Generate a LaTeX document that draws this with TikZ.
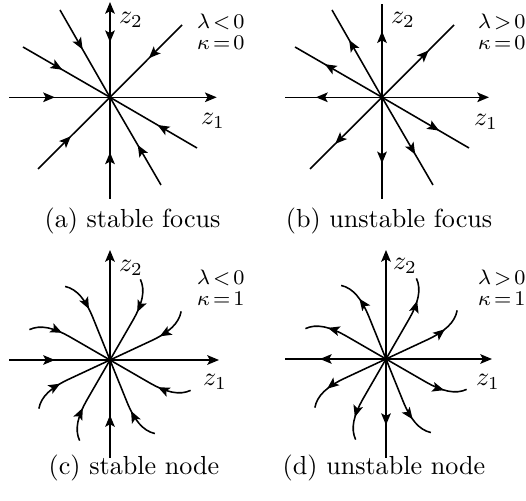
\documentclass[tikz,border=0pt]{standalone}
\usetikzlibrary{arrows.meta,decorations.markings}
\newcommand\lamfont{\fontsize{8.4}{10}\selectfont\thickmuskip=2.5mu}
\newcommand\zfont{\fontsize{10.3}{12}\selectfont}
\tikzset{
  traj/.style={line width=0.6pt},
  inmark/.style={postaction={decorate},decoration={markings,mark=at position -21.1pt with {\arrow{>}}}},
  outmark/.style={postaction={decorate},decoration={markings,mark=at position 25.3pt with {\arrow{>}}}},
  zl/.style={inner sep=0pt,font=\zfont},
  ll/.style={inner sep=0pt,font=\lamfont},
  capnode/.style={inner sep=0pt}
}
\begin{document}
\begin{tikzpicture}[x=0.383pt,y=0.383pt,>={Stealth[length=4.5pt,width=3.7pt,inset=1pt]}]
\useasboundingbox (0,0) rectangle (526,-501);
% ---------- (a) stable focus
\begin{scope}[shift={(110,-97.3)}]
  \coordinate (aO) at (0,0);
  \coordinate (aL) at (-101,0); \coordinate (aR) at (106.7,0);
  \coordinate (aT) at (0,95.3); \coordinate (aB) at (0,-101.7);
  \foreach \n/\x/\y in {1/-50/87.3,2/51/-87.7,3/-87/50.3,4/87/-50.7,5/72/72.3,6/-72/-71.7}{
    \coordinate (a\n) at (\x,\y);
    \draw[traj,inmark] (a\n) -- (aO);
  }
  \draw[traj,inmark] (aL) -- (aO);
  \draw[traj,->] (aO) -- (aR);
  \draw[traj,<-,inmark] (aT) -- (aO);
  \draw[traj,inmark] (aB) -- (aO);
\end{scope}
% ---------- (b) unstable focus
\begin{scope}[shift={(382,-97.3)}]
  \coordinate (bO) at (0,0);
  \coordinate (bL) at (-97,0); \coordinate (bR) at (107,0);
  \coordinate (bT) at (0,93.3); \coordinate (bB) at (0,-101.7);
  \foreach \n/\x/\y in {1/-50/87.3,2/51/-87.7,3/-87/50.3,4/87/-50.7,5/72/72.3,6/-72/-71.7}{
    \coordinate (b\n) at (\x,\y);
    \draw[traj,outmark] (bO) -- (b\n);
  }
  \draw[traj,outmark] (bO) -- (bL);
  \draw[traj,->] (bO) -- (bR);
  \draw[traj,outmark] (bO) -- (bT);
  \draw[traj,outmark] (bO) -- (bB);
\end{scope}
% ---------- (c) stable node
\begin{scope}[shift={(110,-360)}]
  \coordinate (cO) at (0,0);
  \coordinate (cL) at (-101,0); \coordinate (cR) at (109,0);
  \coordinate (cT) at (0,110); \coordinate (cB) at (0,-98);
  \foreach \a [count=\n] in {25,60,112,150,205,240,292,330}{
    \draw[traj,inmark,rotate=\a] (85,14) coordinate (c\n) .. controls (78,4) and (65,0) .. (45,0) -- (cO);
  }
  \draw[traj,inmark] (cL) -- (cO);
  \draw[traj,->] (cO) -- (cR);
  \draw[traj,->] (cO) -- (cT);
  \draw[traj,inmark] (cB) -- (cO);
\end{scope}
% ---------- (d) unstable node
\begin{scope}[shift={(386,-359)}]
  \coordinate (dO) at (0,0);
  \coordinate (dL) at (-101,0); \coordinate (dR) at (106,0);
  \coordinate (dT) at (0,109); \coordinate (dB) at (0,-99);
  \foreach \a [count=\n] in {25,60,112,150,205,240,292,330}{
    \draw[traj,outmark,rotate=\a] (dO) -- (45,0) .. controls (65,0) and (78,4) .. (85,14) coordinate (d\n);
  }
  \draw[traj,outmark] (dO) -- (dL);
  \draw[traj,->] (dO) -- (dR);
  \draw[traj,->] (dO) -- (dT);
  \draw[traj,outmark] (dO) -- (dB);
\end{scope}
% ---------- labels
\node[zl] (az2) at (131,-20) {$z_2$};
\node[zl] (az1) at (213,-121) {$z_1$};
\node[ll,anchor=east] (alam) at (245,-22) {$\lambda<0$};
\node[ll,anchor=east] (akap) at (245,-43) {$\kappa=0$};
\node[zl] (bz2) at (403,-20) {$z_2$};
\node[zl] (bz1) at (486,-122) {$z_1$};
\node[ll,anchor=east] (blam) at (526,-22) {$\lambda>0$};
\node[ll,anchor=east] (bkap) at (526,-43) {$\kappa=0$};
\node[zl] (cz2) at (131,-268) {$z_2$};
\node[zl] (cz1) at (215,-382) {$z_1$};
\node[ll,anchor=east] (clam) at (245,-278) {$\lambda<0$};
\node[ll,anchor=east] (ckap) at (245,-299) {$\kappa=1$};
\node[zl] (dz2) at (405,-266) {$z_2$};
\node[zl] (dz1) at (488,-382) {$z_1$};
\node[ll,anchor=east] (dlam) at (526,-278) {$\lambda>0$};
\node[ll,anchor=east] (dkap) at (526,-299) {$\kappa=1$};
% ---------- captions
\node[capnode] (acap) at (132.5,-221) {(a) stable focus};
\node[capnode] (bcap) at (389,-221) {(b) unstable focus};
\node[capnode] (ccap) at (134,-468) {(c) stable node};
\node[capnode] (dcap) at (384,-468) {(d) unstable node};
\end{tikzpicture}
\end{document}
